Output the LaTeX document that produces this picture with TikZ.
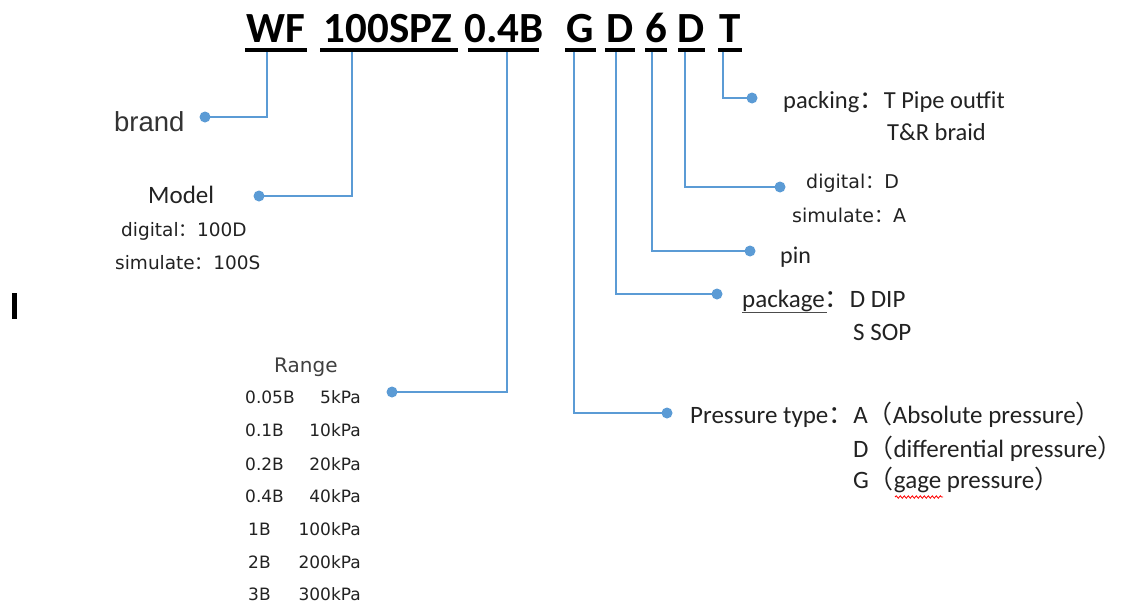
\documentclass[tikz,border=0pt]{standalone}
\usepackage{fontspec}
\setmainfont{Carlito}
\newfontfamily\cjk{Noto Sans CJK SC}
\newfontfamily\dvs{DejaVu Sans}
\newfontfamily\lib{Liberation Sans}
\usetikzlibrary{decorations.pathmorphing}
\definecolor{lblue}{HTML}{5B9BD5}
\definecolor{txt}{HTML}{222222}
\begin{document}
\begin{tikzpicture}[x=1pt,y=-1pt,
  title/.style={anchor=base,inner sep=0,font=\fontsize{43}{43}\selectfont\bfseries},
  uline/.style={line width=3.5pt,black},
  conn/.style={draw=lblue,line width=1.8pt},
  dot/.style={circle,fill=lblue,inner sep=0,minimum size=11pt},
  lbl/.style={anchor=base west,inner sep=0,text=txt},
  cal/.style={lbl,font=\fontsize{#1}{#1}\selectfont},
  dv/.style={lbl,font=\dvs\fontsize{#1}{#1}\selectfont},
  dvr/.style={anchor=base east,inner sep=0,text=txt,font=\dvs\fontsize{17}{17}\selectfont}]
\useasboundingbox (0,0) rectangle (1123,605);
\fill[white] (0,0) rectangle (1123,605);

% title groups
\node[title] (gWF) at (276,42) {WF};
\node[title] (gModel) at (388,42) {100SPZ};
\node[title] (gRange) at (504,42) {0.4B};
\node[title] (gType) at (580.5,42) {G};
\node[title] (gPack) at (620,42) {D};
\node[title] (gPin) at (656,42) {6};
\node[title] (gDig) at (691.5,42) {D};
\node[title] (gPk) at (730,42) {T};
\draw[uline] (245,50) -- (307,50);
\draw[uline] (320,50) -- (458,50);
\draw[uline] (468,50) -- (539,50);
\draw[uline] (565,50) -- (596,50);
\draw[uline] (605,50) -- (635,50);
\draw[uline] (645,50) -- (667,50);
\draw[uline] (678,50) -- (705,50);
\draw[uline] (718,50) -- (742,50);

% tick coordinates under underlines
\coordinate (tWF) at (267,52);
\coordinate (tModel) at (352,52);
\coordinate (tRange) at (507,52);
\coordinate (tType) at (574,52);
\coordinate (tPack) at (616,52);
\coordinate (tPin) at (652,52);
\coordinate (tDig) at (685,52);
\coordinate (tPk) at (723,52);

% dots
\node[dot] (dWF) at (205,117) {};
\node[dot] (dModel) at (259,196) {};
\node[dot] (dRange) at (392,392) {};
\node[dot] (dType) at (667,413) {};
\node[dot] (dPack) at (717,294) {};
\node[dot] (dPin) at (750,251) {};
\node[dot] (dDig) at (780,187) {};
\node[dot] (dPk) at (752,98) {};

% connectors
\draw[conn] (dWF.center) -| (tWF);
\draw[conn] (dModel.center) -| (tModel);
\draw[conn] (dRange.center) -| (tRange);
\draw[conn] (dType.center) -| (tType);
\draw[conn] (dPack.center) -| (tPack);
\draw[conn] (dPin.center) -| (tPin);
\draw[conn] (dDig.center) -| (tDig);
\draw[conn] (dPk.center) -| (tPk);

% left labels
\node[lbl,font=\lib\fontsize{27.5}{27.5}\selectfont,text=black!80] (brand) at (114,131) {brand};
\node[cal=25] (model) at (148,203) {Model};
\node[dv=18.5] (mdig) at (121,236) {digital{\cjk ：}100D};
\node[dv=18.5] (msim) at (115,269) {simulate{\cjk ：}100S};

% range table
\node[dv=20,text=black!75] (range) at (274,372) {Range};
\node[dv=17] (r1a) at (245,403) {0.05B};
\node[dvr] (r1b) at (361,403) {5kPa};
\node[dv=17] (r2a) at (245,436) {0.1B};
\node[dvr] (r2b) at (361,436) {10kPa};
\node[dv=17] (r3a) at (245,470) {0.2B};
\node[dvr] (r3b) at (361,470) {20kPa};
\node[dv=17] (r4a) at (245,502) {0.4B};
\node[dvr] (r4b) at (361,502) {40kPa};
\node[dv=17] (r5a) at (248,535) {1B};
\node[dvr] (r5b) at (361,535) {100kPa};
\node[dv=17] (r6a) at (248,568) {2B};
\node[dvr] (r6b) at (361,568) {200kPa};
\node[dv=17] (r7a) at (248,600) {3B};
\node[dvr] (r7b) at (361,600) {300kPa};

% right labels
\node[cal=24.5] (pk1) at (783,108) {packing{\cjk ：}T Pipe outfit};
\node[cal=24.5] (pk2) at (887,140) {T\&R braid};
\node[dv=19] (dg1) at (806,188) {digital{\cjk ：}D};
\node[dv=19] (dg2) at (792,222) {simulate{\cjk ：}A};
\node[cal=24] (pin) at (780,263) {pin};
\node[cal=25] (pa1) at (742,307) {package{\cjk ：}D DIP};
\node[cal=25] (pa2) at (853,340) {S SOP};
\draw[black!70,line width=1pt] (742,312) -- (827,312);
\node[cal=25] (pt1) at (690,423) {Pressure type{\cjk ：}A{\cjk （}Absolute pressure{\cjk ）}};
\node[cal=25] (pt2) at (853,457) {D{\cjk （}differential pressure{\cjk ）}};
\node[cal=25] (pt3) at (853,488) {G{\cjk （}gage pressure{\cjk ）}};
\draw[red,line width=0.8pt,decorate,decoration={snake,amplitude=1.2pt,segment length=4pt}] (895,497) -- (943,497);

% text cursor
\fill[black] (12,293) rectangle (16.5,319);
\end{tikzpicture}
\end{document}
